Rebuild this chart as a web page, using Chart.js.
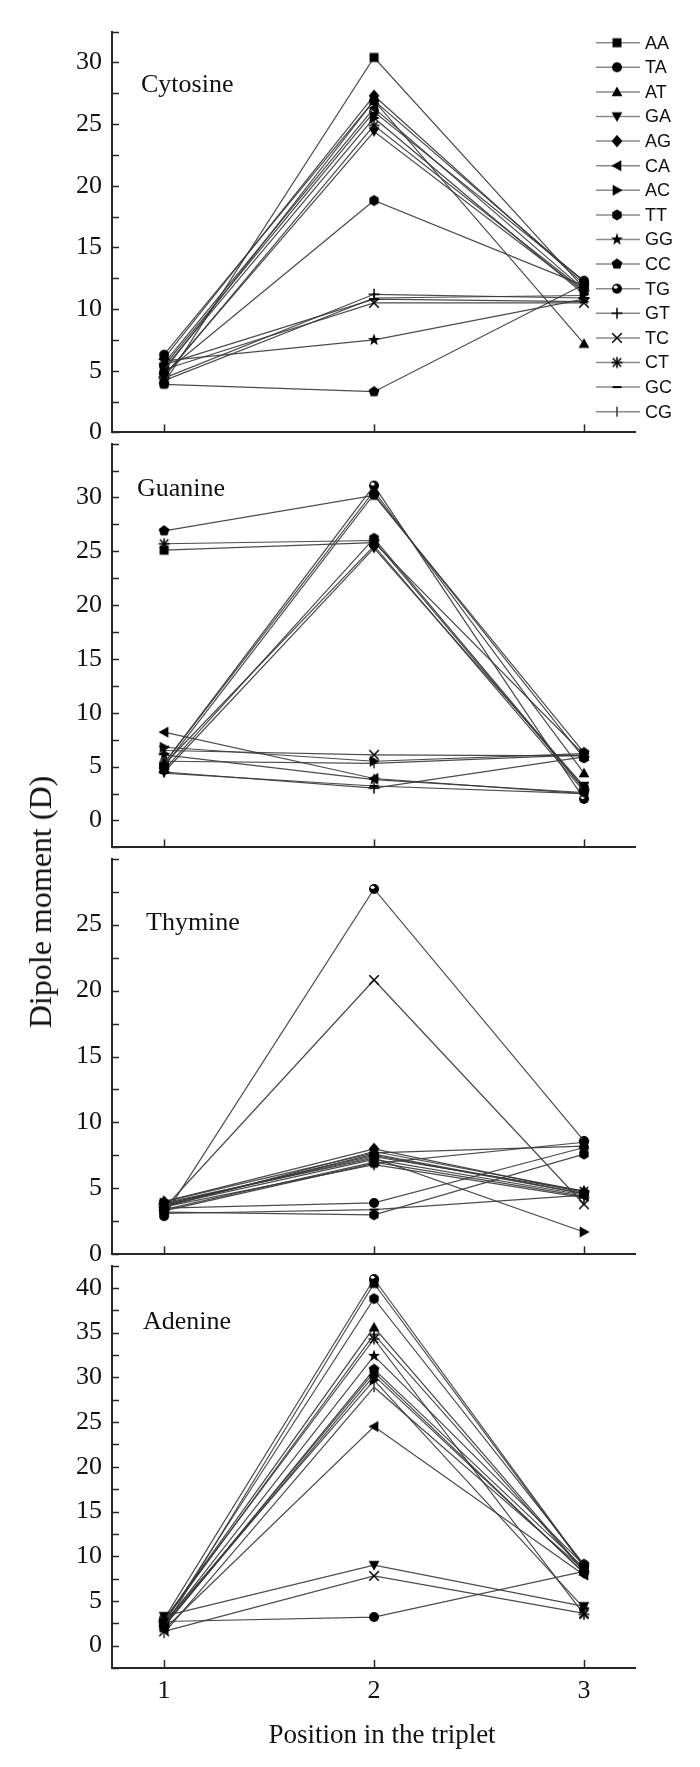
<!DOCTYPE html>
<html>
<head>
<meta charset="utf-8">
<script src="https://cdn.jsdelivr.net/npm/chart.js@4.4.1/dist/chart.umd.min.js"></script>
<style>
html,body{margin:0;padding:0;background:#fff;}
#wrap{position:relative;width:700px;height:1767px;overflow:hidden;background:#fff;}
#wrap canvas{position:absolute;left:0;}
.serif{position:absolute;font-family:"Liberation Serif","Times New Roman",serif;color:#111;white-space:nowrap;line-height:1;}
.ptitle{font-size:26px;transform:translateY(-50%);}
</style>
</head>
<body>
<div id="wrap">
  <canvas id="c0"></canvas>
  <canvas id="c1"></canvas>
  <canvas id="c2"></canvas>
  <canvas id="c3"></canvas>
  <div class="serif ptitle" style="left:141px;top:84px;">Cytosine</div>
  <div class="serif ptitle" style="left:137px;top:488px;">Guanine</div>
  <div class="serif ptitle" style="left:146px;top:922px;">Thymine</div>
  <div class="serif ptitle" style="left:143px;top:1321px;">Adenine</div>
  <div class="serif" style="left:40px;top:902px;font-size:32px;transform:translate(-50%,-50%) rotate(-90deg);">Dipole moment (D)</div>
  <div class="serif" style="left:382px;top:1734px;font-size:27px;transform:translate(-50%,-50%);">Position in the triplet</div>
</div>
<script>
// ---------------- DATA ----------------
const positions = [1, 2, 3];
const xTicks = [1, 2, 3];
const dimers = ['AA','TA','AT','GA','AG','CA','AC','TT','GG','CC','TG','GT','TC','CT','GC','CG'];

// rows follow the order of `dimers`; columns are positions 1, 2, 3
const cytosineValues = [
  [4.0, 30.4, 11.7], [6.3, 26.9, 12.2], [5.0, 26.9, 7.2], [4.6, 24.4, 11.4],
  [6.0, 27.3, 12.0], [5.6, 26.3, 11.6], [5.2, 25.5, 11.2], [4.8, 18.8, 11.9],
  [5.8, 7.5, 10.8],  [3.9, 3.3, 12.0],  [5.4, 26.0, 12.3], [4.4, 11.2, 10.9],
  [5.1, 10.5, 10.5], [4.5, 24.9, 11.5], [5.5, 10.8, 10.6], [4.2, 10.9, 11.1]
];
const guanineValues = [
  [25.1, 25.8, 6.1], [5.0, 30.3, 5.8], [5.3, 30.6, 4.4], [4.5, 25.3, 3.2],
  [5.2, 25.5, 2.7],  [8.2, 3.9, 2.5],  [6.8, 5.5, 6.2],  [4.7, 26.2, 3.0],
  [6.1, 3.8, 2.6],   [26.9, 30.2, 6.3],[5.3, 31.1, 2.0], [4.5, 3.0, 5.9],
  [6.5, 6.1, 6.0],   [25.7, 26.0, 2.9],[4.4, 3.2, 2.5],  [5.5, 5.3, 6.1]
];
const thymineValues = [
  [3.8, 7.5, 4.6], [3.5, 3.9, 8.1], [3.6, 7.8, 4.8], [3.7, 7.2, 4.5],
  [4.0, 8.0, 4.7], [3.4, 7.0, 4.4], [3.9, 7.3, 1.7], [3.2, 3.0, 7.6],
  [3.7, 7.6, 4.6], [3.3, 6.9, 8.5], [2.9, 27.7, 8.6],[3.6, 6.8, 4.3],
  [3.5, 20.8, 3.8],[3.8, 7.4, 4.8], [3.1, 3.4, 4.5], [4.0, 7.7, 8.2]
];
const adenineValues = [
  [2.0, 40.5, 8.8], [2.7, 3.2, 8.3], [2.8, 35.6, 8.4], [3.3, 9.0, 4.4],
  [2.2, 30.2, 8.2], [1.8, 24.5, 7.9], [2.6, 29.7, 4.2], [2.5, 38.8, 9.1],
  [2.4, 32.4, 9.0], [2.1, 30.9, 8.7], [3.0, 41.0, 8.9], [2.7, 34.8, 8.3],
  [1.6, 7.8, 3.6],  [2.9, 34.3, 3.5], [2.3, 30.6, 8.1], [1.4, 28.9, 8.5]
];

const cytosineTicks = [0, 5, 10, 15, 20, 25, 30];
const guanineTicks  = [0, 5, 10, 15, 20, 25, 30];
const thymineTicks  = [0, 5, 10, 15, 20, 25];
const adenineTicks  = [0, 5, 10, 15, 20, 25, 30, 35, 40];
const MINOR_STEP = 2.5;

// ---------------- STYLE / LAYOUT ----------------
const SERIF = '"Liberation Serif","Times New Roman",serif';
const SANS = '"Liberation Sans",Arial,sans-serif';
const AXIS = '#262626';
const LINE = 'rgba(55,55,55,0.9)';
const PLOT_LEFT = 112, PLOT_RIGHT = 635, PAGE_H = 1767;

const markerKinds = ['square','circle','triUp','triDown','diamond','triLeft','triRight','hexagon',
                     'star','pentagon','halfCircle','plus','cross','asterisk','dash','vline'];

function makeMarker(kind){
  const c = document.createElement('canvas');
  c.width = 16; c.height = 16;
  const g = c.getContext('2d');
  g.translate(8, 8);
  g.fillStyle = '#000'; g.strokeStyle = '#000'; g.lineWidth = 1.5;
  const poly = pts => { g.beginPath(); pts.forEach(([px,py],k)=> k ? g.lineTo(px,py) : g.moveTo(px,py)); g.closePath(); g.fill(); };
  const reg = (n, r, rot) => Array.from({length:n}, (_,k) => { const t = rot + k*2*Math.PI/n; return [r*Math.cos(t), r*Math.sin(t)]; });
  const seg = (x1,y1,x2,y2) => { g.beginPath(); g.moveTo(x1,y1); g.lineTo(x2,y2); g.stroke(); };
  switch(kind){
    case 'square': g.fillRect(-4.5,-4.5,9,9); break;
    case 'circle': g.beginPath(); g.arc(0,0,5,0,2*Math.PI); g.fill(); break;
    case 'triUp': poly([[0,-5.6],[5.4,4.3],[-5.4,4.3]]); break;
    case 'triDown': poly([[0,5.6],[5.4,-4.3],[-5.4,-4.3]]); break;
    case 'triLeft': poly([[-5.6,0],[4.3,-5.4],[4.3,5.4]]); break;
    case 'triRight': poly([[5.6,0],[-4.3,-5.4],[-4.3,5.4]]); break;
    case 'diamond': poly([[0,-6.2],[5.4,0],[0,6.2],[-5.4,0]]); break;
    case 'hexagon': poly(reg(6,5.4,Math.PI/6)); break;
    case 'star': {
      const pts = [];
      for (let k=0;k<10;k++){ const r = k%2 ? 2.6 : 6.4; const t = -Math.PI/2 + k*Math.PI/5; pts.push([r*Math.cos(t), r*Math.sin(t)]); }
      poly(pts); break;
    }
    case 'pentagon': poly(reg(5,5.7,-Math.PI/2)); break;
    case 'halfCircle':
      g.beginPath(); g.arc(0,0,5,0,2*Math.PI); g.fill();
      g.fillStyle = '#fff'; g.beginPath(); g.ellipse(-1.4,-1.7,2,1.6,0,0,2*Math.PI); g.fill();
      break;
    case 'plus': seg(-5.5,0,5.5,0); seg(0,-5.5,0,5.5); break;
    case 'cross': seg(-4.8,-4.8,4.8,4.8); seg(-4.8,4.8,4.8,-4.8); break;
    case 'asterisk': seg(-5.5,0,5.5,0); seg(0,-5.5,0,5.5); seg(-4.2,-4.2,4.2,4.2); seg(-4.2,4.2,4.2,-4.2); break;
    case 'dash': g.fillRect(-4.5,-1,9,2); break;
    case 'vline': g.fillStyle = '#555'; g.fillRect(-0.9,-5,1.8,10); break;
  }
  return c;
}
const markers = markerKinds.map(makeMarker);

const panels = [
  {values: cytosineValues, yTicks: cytosineTicks, min: 0,    max: 32.5, top: 26,   bottom: 438},
  {values: guanineValues,  yTicks: guanineTicks,  min: -2.5, max: 35,   top: 438,  bottom: 853},
  {values: thymineValues,  yTicks: thymineTicks,  min: 0,    max: 30,   top: 853,  bottom: 1260},
  {values: adenineValues,  yTicks: adenineTicks,  min: -2.5, max: 42.5, top: 1260, bottom: 1668}
];

const innerTicks = {
  id: 'innerTicks',
  afterDraw(chart){
    const {ctx, chartArea: a, scales: {x, y}} = chart;
    ctx.save();
    ctx.strokeStyle = AXIS; ctx.lineWidth = 1.5;
    const start = Math.ceil(y.min / MINOR_STEP - 1e-9) * MINOR_STEP;
    for (let v = start; v <= y.max + 1e-9; v += MINOR_STEP){
      const py = Math.round(y.getPixelForValue(v)) + 0.5;
      ctx.beginPath(); ctx.moveTo(a.left, py); ctx.lineTo(a.left + 7, py); ctx.stroke();
    }
    xTicks.forEach(v => {
      const px = Math.round(x.getPixelForValue(v)) + 0.5;
      ctx.beginPath(); ctx.moveTo(px, a.bottom); ctx.lineTo(px, a.bottom - 8); ctx.stroke();
    });
    ctx.restore();
  }
};

function legendPlugin(canvasTop){
  return {
    id: 'customLegend',
    afterDraw(chart){
      const ctx = chart.ctx;
      ctx.save();
      dimers.forEach((name, i) => {
        const y = 42.7 + i * 24.6 - canvasTop;
        ctx.strokeStyle = '#8a8a8a'; ctx.lineWidth = 1.5;
        ctx.beginPath(); ctx.moveTo(596, y); ctx.lineTo(640, y); ctx.stroke();
        const m = markers[i];
        ctx.drawImage(m, 617 - m.width/2, y - m.height/2);
        ctx.fillStyle = '#111';
        ctx.font = '18px ' + SANS;
        ctx.textBaseline = 'middle'; ctx.textAlign = 'left';
        ctx.fillText(name, 645, y + 1);
      });
      ctx.restore();
    }
  };
}

panels.forEach((p, idx) => {
  const isLast = idx === panels.length - 1;
  const padTop = 20;
  const extra = isLast ? (PAGE_H - p.bottom) : 20;
  const cTop = p.top - padTop;
  const cH = p.bottom - cTop + extra;
  const canvas = document.getElementById('c' + idx);
  canvas.width = 700; canvas.height = cH;
  canvas.style.width = '700px'; canvas.style.height = cH + 'px';
  canvas.style.top = cTop + 'px';

  const datasets = dimers.map((d, i) => ({
    label: d,
    data: positions.map((x, j) => ({x: x, y: p.values[i][j]})),
    borderColor: LINE,
    borderWidth: 1.2,
    pointStyle: markers[i],
    pointRadius: 5,
    pointBackgroundColor: '#000',
    pointBorderColor: '#000',
    fill: false,
    tension: 0,
    clip: false
  }));

  const plugins = [innerTicks];
  if (idx === 0) plugins.push(legendPlugin(cTop));

  new Chart(canvas, {
    type: 'line',
    data: {datasets},
    options: {
      responsive: false,
      animation: false,
      devicePixelRatio: 1,
      events: [],
      layout: {padding: {top: padTop, bottom: isLast ? 0 : 20, left: 0, right: 700 - PLOT_RIGHT}},
      plugins: {legend: {display: false}, tooltip: {enabled: false}},
      scales: {
        x: {
          type: 'linear', position: 'bottom', min: 0.752, max: 3.243,
          afterBuildTicks: s => { s.ticks = xTicks.map(v => ({value: v})); },
          afterFit: s => { s.height = isLast ? extra : 0; },
          grid: {display: false, drawTicks: false},
          border: {display: true, color: AXIS, width: 2},
          ticks: {display: isLast, padding: 8, color: '#111', font: {family: SERIF, size: 26}, maxRotation: 0, autoSkip: false}
        },
        y: {
          type: 'linear', min: p.min, max: p.max,
          afterBuildTicks: s => { s.ticks = p.yTicks.map(v => ({value: v})); },
          afterFit: s => { s.width = PLOT_LEFT; },
          grid: {display: false, drawTicks: false},
          border: {display: true, color: AXIS, width: 2},
          ticks: {padding: 10, color: '#111', font: {family: SERIF, size: 26}, autoSkip: false}
        }
      }
    },
    plugins: plugins
  });
});
</script>
</body>
</html>
